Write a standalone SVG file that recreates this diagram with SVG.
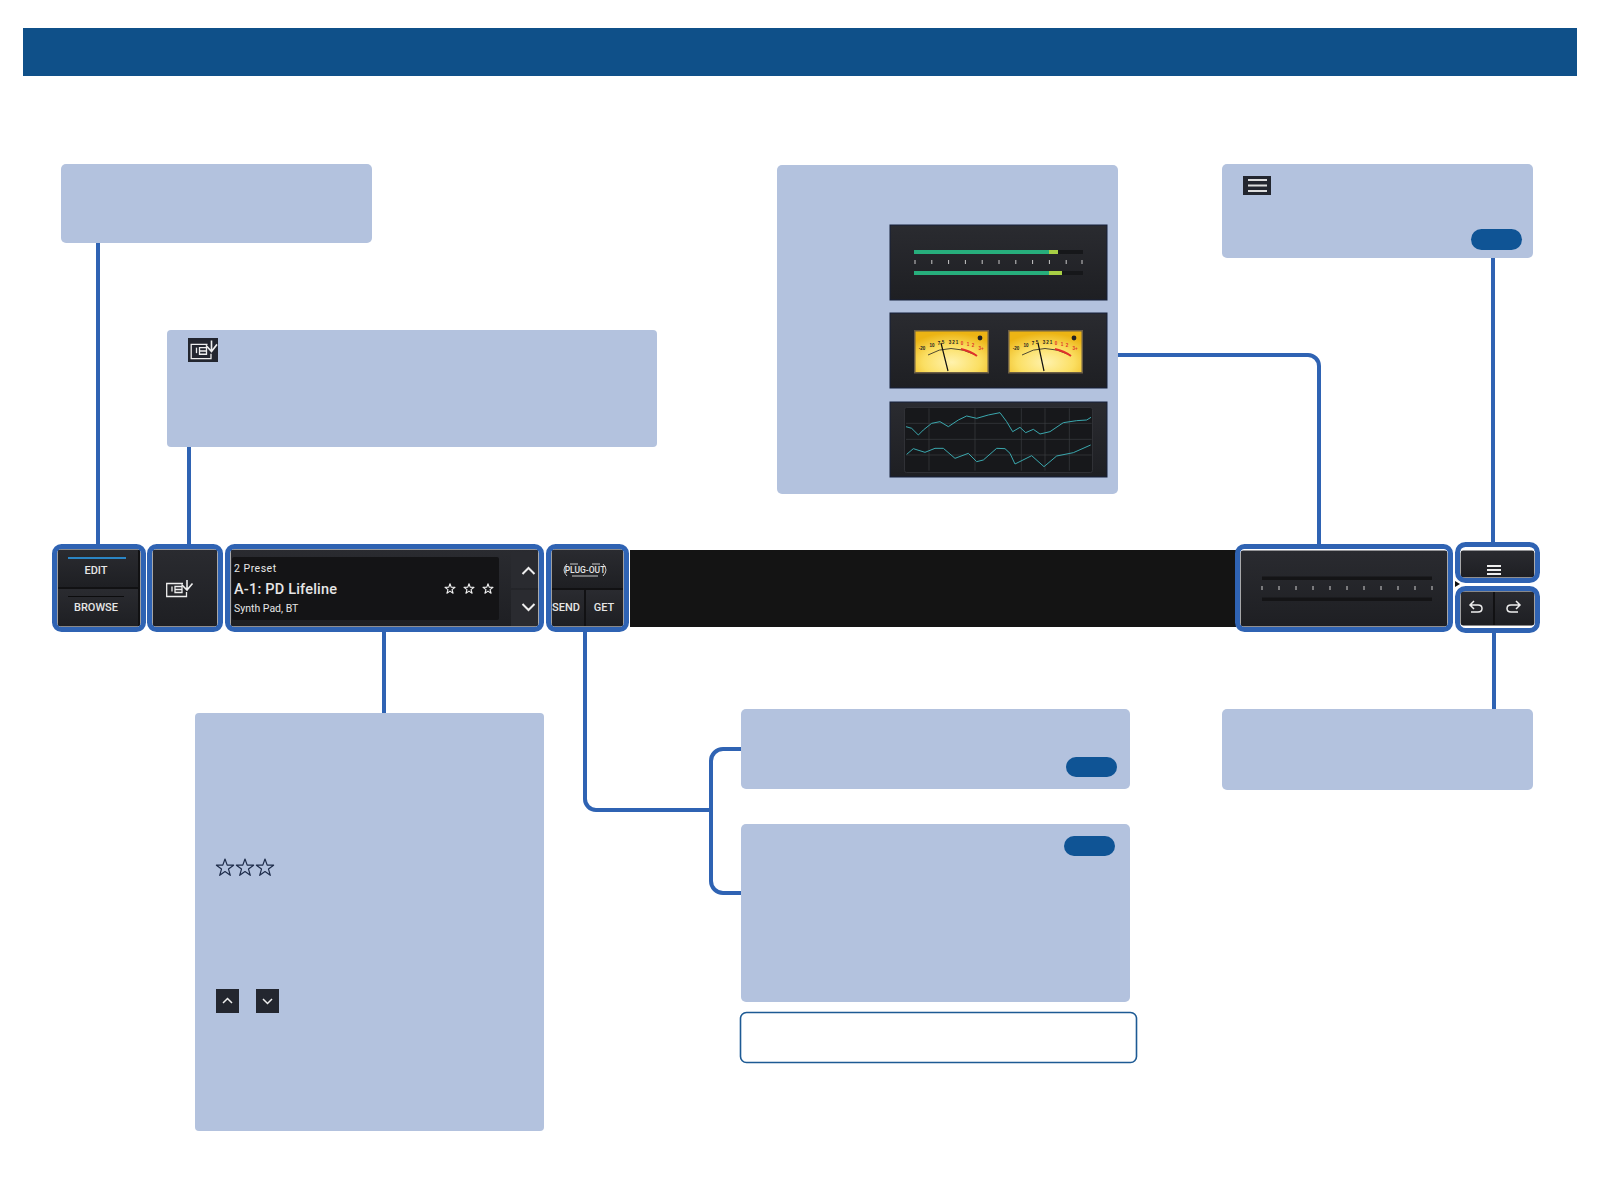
<svg xmlns="http://www.w3.org/2000/svg" width="1600" height="1200" viewBox="0 0 1600 1200">
<style>
.panel{fill:#b3c2de}
.pill{fill:#0f5495}
.conn{fill:none;stroke:#2f63b3;stroke-width:4}
.frame{fill:none;stroke:#2f63b3;stroke-width:5}
.inner{fill:none;stroke:#fff;stroke-width:1.2}
.btn{fill:url(#btn)}
.back{fill:#111113}
.ui{font-family:Roboto,"Liberation Sans",sans-serif;fill:#e6e6e6}
.ic{fill:none;stroke:#eee;stroke-width:1.5}
.meter{fill:url(#btn);stroke:#16213a;stroke-width:1}
.vu{font-family:"Liberation Sans",sans-serif;font-size:4.500px;font-weight:700;text-anchor:middle}
.wave{fill:none;stroke:#3aa8ae;stroke-width:3;stroke-linejoin:round}
.grid{stroke:#3b3e42;stroke-width:2}
</style>
<defs>
<linearGradient id="btn" x1="0" y1="0" x2="0" y2="1"><stop offset="0" stop-color="#2a2b30"/><stop offset="1" stop-color="#1e1f23"/></linearGradient>
<radialGradient id="vug" cx=".5" cy=".75" r=".7"><stop offset="0" stop-color="#fff2ad"/><stop offset=".55" stop-color="#fbdf63"/><stop offset="1" stop-color="#ecb414"/></radialGradient>
<g id="imp" fill="none" stroke="#eee" stroke-width="1.3">
<path d="M17 3.500H.7V16.500H20.500V12"/><path d="M6 6.500V11.500"/><path d="M9 6.500H16V12.500H9ZM9 9.500H16"/><path d="M21 0V9.500M15.500 4.500L21 10L26.500 3.500" stroke-width="1.600"/>
</g>
<polygon id="star" points="0,-9 2.2,-2.9 8.6,-2.8 3.5,1.1 5.3,7.3 0,3.6 -5.3,7.3 -3.5,1.1 -8.6,-2.8 -2.2,-2.9" fill="none" stroke-linejoin="round"/>
<g id="vuface">
<rect x=".75" y=".75" width="73.5" height="42" fill="url(#vug)" stroke="#6d5f44" stroke-width="1.5"/>
<path d="M14 25Q36 12 62 25" fill="none" stroke="#222" stroke-width=".8"/>
<path d="M47 19Q56 21 63 26" fill="none" stroke="#e0312a" stroke-width="2"/>
<circle cx="66" cy="8" r="2.400" fill="#222"/>
<g fill="#222" class="vu"><text x="8" y="20">-20</text><text x="18" y="17">10</text><text x="25" y="15">7</text><text x="29" y="14">5</text><text x="36" y="14">3</text><text x="39.500" y="14">2</text><text x="43" y="14">1</text></g>
<g fill="#e0312a" class="vu"><text x="48" y="15">0</text><text x="54" y="16">1</text><text x="59" y="17">2</text><text x="67" y="20">3+</text></g>
</g>
</defs>
<rect width="1600" height="1200" fill="#fff"/>
<rect id="header" x="23" y="28" width="1554" height="48" fill="#0f5089"/>
<rect id="bar" x="630" y="550" width="606" height="77" fill="#141414"/>

<g id="connectors">
<path class="conn" d="M98 243V545"/>
<path class="conn" d="M189 447V545"/>
<path class="conn" d="M384 632V713"/>
<path class="conn" d="M585 632V799A11 11 0 0 0 596 810H711"/>
<path class="conn" d="M741 749H723A12 12 0 0 0 711 761V881A12 12 0 0 0 723 893H741"/>
<path class="conn" d="M1117 355H1308A11 11 0 0 1 1319 366V546"/>
<path class="conn" d="M1493 258V543"/>
<path class="conn" d="M1494 633V709"/>
</g>

<g id="note-mode"><rect class="panel" x="61" y="164" width="311" height="79" rx="5"/></g>

<g id="note-import"><rect class="panel" x="167" y="330" width="490" height="117" rx="4"/>
<rect x="188" y="338" width="30" height="24" fill="#23262f"/><use href="#imp" transform="translate(190.500 340.500) scale(1 1.100)"/></g>

<g id="note-meter"><rect class="panel" x="777" y="165" width="341" height="329" rx="5"/>
<g id="meter-bars"><rect class="meter" x="890" y="225" width="217" height="75"/>
<rect x="914" y="250" width="169" height="4" fill="#16171a"/><rect x="914" y="271" width="169" height="4" fill="#16171a"/>
<rect x="914" y="250" width="135" height="4" fill="#27ae7c"/><rect x="1049" y="250" width="9" height="4" fill="#a8cf45"/>
<rect x="914" y="271" width="135" height="4" fill="#27ae7c"/><rect x="1049" y="271" width="13" height="4" fill="#a8cf45"/>
<path d="M915 260v4M931.800 260v4M948.600 260v4M965.400 260v4M982.200 260v4M999 260v4M1015.800 260v4M1032.600 260v4M1049.400 260v4M1066.200 260v4M1082 260v4" stroke="#c9c9c9" stroke-width="1"/></g>
<g id="meter-vu"><rect class="meter" x="890" y="313" width="217" height="75"/>
<use href="#vuface" x="914" y="330"/><use href="#vuface" x="1008" y="330"/>
<path d="M948 371L941 343M1044 371L1038 343" stroke="#111" stroke-width="1.200"/></g>
<g id="meter-graph"><rect class="meter" x="890" y="402" width="217" height="75"/>
<rect x="904.500" y="407.500" width="188" height="65" rx="2" fill="#17181b" stroke="#303136"/>
<g transform="translate(860 210) scale(.33333)">
<path class="grid" d="M207 595V782M345 595V782M484 595V782M555 595V782M628 595V782M138 640H695M138 688H695M138 735H695"/>
<polyline class="wave" points="138,650 155,655 175,675 190,660 215,640 240,635 265,650 295,630 320,618 350,625 385,615 420,608 440,635 458,665 480,652 497,668 520,658 540,672 570,665 610,638 650,632 680,630 693,622"/>
<polyline class="wave" points="140,733 160,716 195,727 225,715 250,715 285,745 325,730 350,755 370,750 410,715 435,716 450,730 465,762 515,737 552,770 590,738 640,728 692,705"/>
</g></g></g>

<g id="note-menu"><rect class="panel" x="1222" y="164" width="311" height="94" rx="5"/>
<rect x="1243" y="176" width="28" height="19" fill="#23262f"/>
<path d="M1248 180H1267M1248 185.500H1267M1248 191H1267" stroke="#ddd" stroke-width="2"/>
<rect class="pill" x="1471" y="229" width="51" height="21" rx="10.500"/></g>

<g id="note-preset"><rect class="panel" x="195" y="713" width="349" height="418" rx="4"/>
<g stroke="#1e2c4a" stroke-width="1.200"><use href="#star" x="225" y="868"/><use href="#star" x="245" y="868"/><use href="#star" x="265" y="868"/></g>
<rect x="216" y="989" width="23" height="24" fill="#23262f"/><path d="M223 1003L227.500 998.500L232 1003" fill="none" stroke="#eee" stroke-width="1.500"/>
<rect x="256" y="989" width="23" height="24" fill="#23262f"/><path d="M263 999L267.500 1003.500L272 999" fill="none" stroke="#eee" stroke-width="1.500"/></g>

<g id="note-send"><rect class="panel" x="741" y="709" width="389" height="80" rx="5"/>
<rect class="pill" x="1066" y="757" width="51" height="20" rx="10"/></g>
<g id="note-get"><rect class="panel" x="741" y="824" width="389" height="178" rx="5"/>
<rect class="pill" x="1064" y="836" width="51" height="20" rx="10"/></g>
<g id="note-empty"><rect x="740.500" y="1012.500" width="396" height="50" rx="6" fill="#fff" stroke="#1d5a94" stroke-width="1.600"/></g>
<g id="note-undo"><rect class="panel" x="1222" y="709" width="311" height="81" rx="5"/></g>

<g id="mode-switch"><rect class="back" x="57" y="549" width="84" height="78"/>
<rect class="btn" x="58" y="550" width="80" height="37"/><rect class="btn" x="58" y="589" width="80" height="37"/>
<rect x="68" y="557" width="58" height="2" fill="#2a85c5"/><rect x="68" y="596" width="56" height="1" fill="#0c0c0d"/>
<text class="ui" x="96" y="574" font-size="11" font-weight="500" text-anchor="middle">EDIT</text>
<text class="ui" x="96" y="611" font-size="11" font-weight="500" text-anchor="middle">BROWSE</text>
<rect class="inner" x="57" y="549" width="84" height="78" rx="3"/><rect class="frame" x="54.500" y="546.500" width="89" height="83" rx="7"/></g>

<g id="import-button">
<rect class="btn" x="152" y="549" width="66" height="78"/><use href="#imp" transform="translate(166 580)"/>
<rect class="inner" x="152" y="549" width="66" height="78" rx="3"/><rect class="frame" x="149.500" y="546.500" width="71" height="83" rx="7"/></g>

<g id="preset-display">
<rect class="btn" x="230" y="549" width="309" height="78"/>
<rect x="232" y="557" width="267" height="63" rx="2" fill="#141416"/>
<rect x="511" y="552" width="28" height="36" fill="#2a2b30"/><rect x="511" y="590" width="28" height="36" fill="#2a2b30"/>
<path d="M522.500 574L528.500 568L534.500 574M522.500 604L528.500 610L534.500 604" fill="none" stroke="#eee" stroke-width="2"/>
<text class="ui" x="234" y="572" font-size="10.500" letter-spacing=".5">2 Preset</text>
<text class="ui" x="234" y="594" font-size="14.500" font-weight="500" letter-spacing=".2">A-1: PD Lifeline</text>
<text class="ui" x="234" y="612" font-size="10.500">Synth Pad, BT</text>
<g stroke="#f0f0f0" stroke-width="1.900"><use href="#star" transform="translate(450 589) scale(.58)"/><use href="#star" transform="translate(469 589) scale(.58)"/><use href="#star" transform="translate(488 589) scale(.58)"/></g>
<rect class="inner" x="230" y="549" width="309" height="78" rx="3"/><rect class="frame" x="227.500" y="546.500" width="314" height="83" rx="7"/></g>

<g id="plugout"><rect class="back" x="551" y="549" width="73" height="78"/>
<rect class="btn" x="552" y="550" width="71" height="38"/><rect class="btn" x="552" y="590" width="32" height="36"/><rect class="btn" x="586" y="590" width="37" height="36"/>
<path d="M567 564Q561 570 567 576M603 564Q609 570 603 576M570 564H578M592 564H600M572 576H598" fill="none" stroke="#ddd" stroke-width=".9"/>
<text class="ui" x="585" y="573" font-size="8.500" font-weight="500" text-anchor="middle">PLUG-OUT</text>
<text class="ui" x="566" y="611" font-size="11" font-weight="500" text-anchor="middle">SEND</text>
<text class="ui" x="604" y="611" font-size="11" font-weight="500" text-anchor="middle">GET</text>
<rect class="inner" x="551" y="549" width="73" height="78" rx="3"/><rect class="frame" x="548.500" y="546.500" width="78" height="83" rx="7"/></g>

<g id="level-meter">
<rect class="btn" x="1240" y="550" width="208" height="77"/>
<rect x="1262" y="576.500" width="170" height="3.500" fill="#141416"/><rect x="1262" y="597.500" width="170" height="3.500" fill="#141416"/>
<path d="M1262 586v4M1279 586v4M1296 586v4M1313 586v4M1330 586v4M1347 586v4M1364 586v4M1381 586v4M1398 586v4M1415 586v4M1432 586v4" stroke="#cfcfcf" stroke-width="1"/>
<rect class="inner" x="1240" y="550" width="208" height="77" rx="3"/><rect class="frame" x="1237.500" y="546.500" width="213" height="83" rx="7"/></g>

<g id="menu-button">
<rect class="btn" x="1460" y="550" width="75" height="28"/>
<path d="M1487 566H1501M1487 570H1501M1487 574H1501" stroke="#eee" stroke-width="1.800"/>
<rect class="inner" x="1460" y="550" width="75" height="28" rx="3"/><rect class="frame" x="1457.500" y="544.500" width="80" height="36" rx="8"/></g>

<g id="undo-redo"><rect class="back" x="1460" y="591" width="75" height="35"/>
<rect class="btn" x="1461" y="592" width="32" height="33"/><rect class="btn" x="1495" y="592" width="39" height="33"/>
<path class="ic" d="M1474 601L1470 605L1474 609M1470 605H1478Q1482 605 1482 608.500Q1482 612 1478 612H1471"/>
<path class="ic" d="M1516 601L1520 605L1516 609M1520 605H1511Q1507 605 1507 608.500Q1507 612 1511 612H1518"/>
<rect class="inner" x="1460" y="591" width="75" height="35" rx="3"/><rect class="frame" x="1457.500" y="588.500" width="80" height="42" rx="8"/></g>
<polygon id="tick" points="1455,581 1460,584 1455,587" fill="#111"/>
</svg>
